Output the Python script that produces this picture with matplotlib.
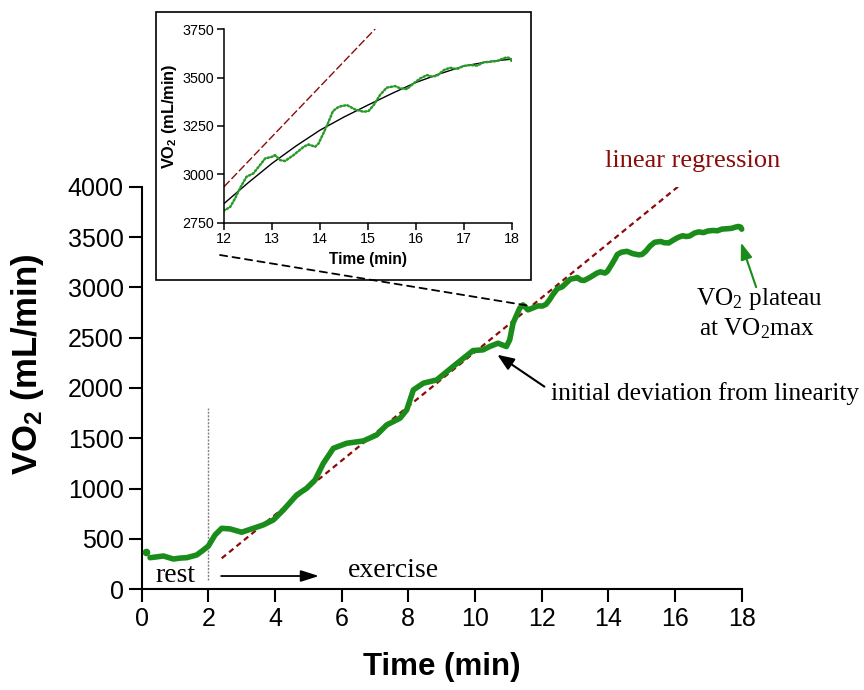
import matplotlib
matplotlib.use("Agg")
import matplotlib.pyplot as plt
from matplotlib.patches import Rectangle, ConnectionPatch

plt.rcParams['font.family'] = ['Liberation Sans', 'DejaVu Sans']
plt.rcParams['mathtext.fontset'] = 'custom'
plt.rcParams['mathtext.rm'] = 'Liberation Serif'
plt.rcParams['mathtext.it'] = 'Liberation Serif:italic'
plt.rcParams['mathtext.bf'] = 'Liberation Sans:bold'
plt.rcParams['mathtext.sf'] = 'Liberation Sans'

# ---------------- data ----------------
time_min = [0.13, 0.25, 0.45, 0.65, 0.95, 1.15, 1.35, 1.65, 1.85, 2.0, 2.2, 2.4,
            2.65, 3.0, 3.35, 3.65, 3.95, 4.25, 4.65, 4.95, 5.2, 5.45, 5.75, 6.15,
            6.65, 7.05, 7.35, 7.75, 7.95, 8.15, 8.45, 8.85, 9.34, 9.94, 10.24,
            10.44, 10.69, 10.94, 11.04, 11.14, 11.34, 11.44, 11.59, 11.89,
            12.02, 12.13, 12.23, 12.33, 12.47, 12.61, 12.72, 12.86, 13.0, 13.06,
            13.17, 13.27, 13.45, 13.66, 13.76, 13.9, 13.97, 14.07, 14.18, 14.27,
            14.39, 14.56, 14.73, 14.91, 15.01, 15.12, 15.25, 15.39, 15.57, 15.67,
            15.81, 15.95, 16.09, 16.23, 16.33, 16.44, 16.58, 16.71, 16.85, 16.99,
            17.13, 17.27, 17.41, 17.55, 17.69, 17.83, 17.9, 17.97, 18.0]
vo2 = [374, 314, 322, 331, 301, 310, 314, 341, 390, 430, 540, 606,
       600, 567, 606, 640, 689, 788, 937, 1004, 1086, 1252, 1401, 1451,
       1474, 1534, 1633, 1700, 1782, 1981, 2048, 2080, 2213, 2372, 2379,
       2412, 2445, 2412, 2478, 2644, 2793, 2826, 2776, 2816,
       2814, 2831, 2874, 2926, 2987, 3004, 3038, 3082, 3090, 3099,
       3073, 3068, 3099, 3142, 3154, 3142, 3159, 3211, 3272, 3327,
       3349, 3358, 3335, 3323, 3327, 3358, 3410, 3448, 3456, 3444,
       3441, 3470, 3496, 3513, 3505, 3510, 3539, 3551, 3544, 3560,
       3565, 3562, 3579, 3582, 3586, 3600, 3605, 3598, 3578]

# linear regression line (main panel)
reg_time = [2.4, 16.2]
reg_vo2 = [308, 4030]
# linear regression line (inset panel)
reg_inset_time = [12.0, 15.15]
reg_inset_vo2 = [2935, 3752]
# fitted curve in inset
fit_time = [12.0, 12.5, 13.0, 13.5, 14.0, 14.5, 15.0, 15.5, 16.0, 16.5, 17.0, 17.5, 18.0]
fit_vo2 = [2848, 2955, 3056, 3146, 3228, 3296, 3358, 3418, 3475, 3520, 3560, 3582, 3596]

x_ticks = [0, 2, 4, 6, 8, 10, 12, 14, 16, 18]
y_ticks = [0, 500, 1000, 1500, 2000, 2500, 3000, 3500, 4000]
inset_x_ticks = [12, 13, 14, 15, 16, 17, 18]
inset_y_ticks = [2750, 3000, 3250, 3500, 3750]

GREEN = '#1A8C1A'
DARKRED = '#8B0A0A'

W, H = 864, 690
fig = plt.figure(figsize=(W / 100, H / 100), dpi=100)

# ---------------- main axes ----------------
ax = fig.add_axes([141.7 / W, 1 - 589.3 / H, 600 / W, 402.6 / H])
ax.set_xlim(0, 18)
ax.set_ylim(0, 4000)
for s in ['top', 'right']:
    ax.spines[s].set_visible(False)
for s in ['left', 'bottom']:
    ax.spines[s].set_linewidth(1.5)
ax.set_xticks(x_ticks)
ax.set_yticks(y_ticks)
ax.tick_params(direction='out', length=9.5, width=1.5, labelsize=18, pad=3.5)

ax.plot(reg_time, reg_vo2, color=DARKRED, lw=1.6, linestyle=(0, (2.5, 1.8)), zorder=3)
# first breath is an isolated point, the rest forms a dense trace
ax.plot(time_min[:1], vo2[:1], 'o', color=GREEN, ms=4.5, zorder=4, clip_on=False)
ax.plot(time_min[1:], vo2[1:], color=GREEN, lw=4.0, solid_capstyle='round',
        solid_joinstyle='round', zorder=4, clip_on=False)

ax.set_xlabel('Time (min)', fontsize=22.5, fontweight='bold')
ax.xaxis.set_label_coords(0.5, -0.155)
ax.set_ylabel(r'VO$_\mathbf{2}$ (mL/min)', fontsize=25, fontweight='bold')
ax.yaxis.set_label_coords(-0.16, 0.56)

# rest / exercise
ax.plot([2, 2], [92, 1802], color='#808080', lw=1.0, linestyle=(0, (1.5, 1)), zorder=2)
serif = ['Liberation Serif', 'DejaVu Serif']
ax.text(0.4, 75, 'rest', family=serif, fontsize=20, va='baseline', ha='left')
ax.text(6.19, 122, 'exercise', family=serif, fontsize=20, va='baseline', ha='left')
ax.annotate('', xy=(5.4, 132), xytext=(2.3, 132),
            arrowprops=dict(arrowstyle='-|>,head_length=1.1,head_width=0.35',
                            color='black', lw=1.3))

# annotations
ax.text(13.9, 4200, 'linear regression', family=serif, fontsize=19,
        color=DARKRED, va='baseline', ha='left', clip_on=False)
ax.text(12.28, 1883, 'initial deviation from linearity', family=serif,
        fontsize=18.4, va='baseline', ha='left', clip_on=False)
ax.annotate('', xy=(10.6, 2346), xytext=(12.15, 1998),
            arrowprops=dict(arrowstyle='-|>,head_length=1.0,head_width=0.4',
                            color='black', lw=1.5))
ax.text(18.52, 2827, r'VO$_\mathrm{2}$ plateau', family=serif, fontsize=18.2,
        va='baseline', ha='center', clip_on=False)
ax.text(18.47, 2519, r'at VO$_\mathrm{2}$max', family=serif, fontsize=18.2,
        va='baseline', ha='center', clip_on=False)
ax.annotate('', xy=(17.95, 3472), xytext=(18.46, 2976),
            arrowprops=dict(arrowstyle='-|>,head_length=1.0,head_width=0.35',
                            color=GREEN, lw=1.5), annotation_clip=False)

# ---------------- inset ----------------
frame = Rectangle((156 / W, 1 - 280 / H), (531 - 156) / W, (280 - 12) / H,
                  transform=fig.transFigure, fill=True, facecolor='white',
                  edgecolor='black', lw=1.2, zorder=5)
fig.patches.append(frame)

ax2 = fig.add_axes([224 / W, 1 - 222.5 / H, 288 / W, 193.2 / H], zorder=6)
ax2.set_xlim(12, 18)
ax2.set_ylim(2750, 3750)
for s in ['top', 'right']:
    ax2.spines[s].set_visible(False)
for s in ['left', 'bottom']:
    ax2.spines[s].set_linewidth(1.1)
ax2.set_xticks(inset_x_ticks)
ax2.set_yticks(inset_y_ticks)
ax2.tick_params(direction='out', length=5, width=1.1, labelsize=10.3, pad=2)
ax2.plot(reg_inset_time, reg_inset_vo2, color=DARKRED, lw=1.0, linestyle=(0, (5.8, 2)))
ax2.plot(fit_time, fit_vo2, color='black', lw=1.0)
ax2.plot(time_min, vo2, color='#2A9A2A', lw=1.8, linestyle=(0, (0.6, 0.9)),
         dash_capstyle='round')
ax2.set_xlabel('Time (min)', fontsize=11.2, fontweight='bold')
ax2.xaxis.set_label_coords(0.5, -0.155)
ax2.set_ylabel(r'VO$_\mathbf{2}$ (mL/min)', fontsize=11.8, fontweight='bold')
ax2.yaxis.set_label_coords(-0.155, 0.55)

# dashed connector from inset to main curve
con = ConnectionPatch(xyA=(220 / W, 1 - 255 / H), coordsA=fig.transFigure,
                      xyB=(11.6, 2818), coordsB=ax.transData,
                      color='black', lw=1.3, linestyle=(0, (4, 3)), zorder=7)
fig.add_artist(con)

fig.savefig('out.png', dpi=100)
